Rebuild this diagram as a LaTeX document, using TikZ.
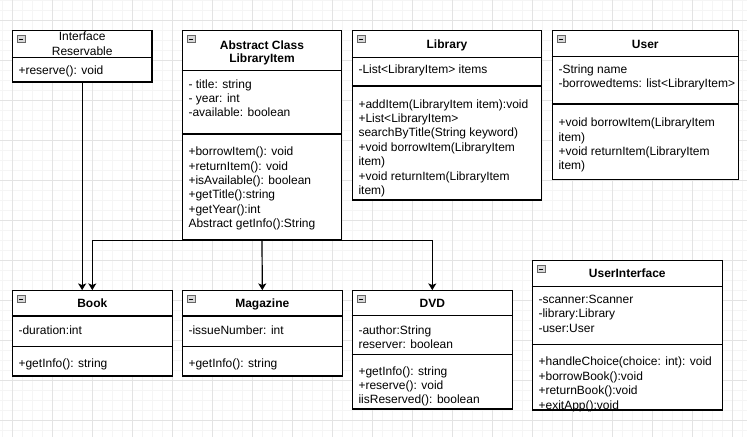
\documentclass[tikz,border=0pt]{standalone}
\usepackage{fontspec}
\setmainfont{Liberation Sans}
\usetikzlibrary{arrows.meta,fit}

\tikzset{
  umlbox/.style={draw=black, fill=white, line width=0.9pt, inner sep=0pt},
  umlline/.style={draw=black, line width=0.9pt},
  classname/.style={font=\fontsize{9}{10.8}\selectfont\bfseries, align=center, inner sep=0pt},
  members/.style={font=\fontsize{9}{10.8}\selectfont, align=left, anchor=base west, inner sep=0pt},
  inherit/.style={line width=0.9pt, -{Stealth[length=5pt,width=6pt,inset=1.2pt]}},
  gridminor/.style={draw=black!4, line width=0.5pt},
  gridmajor/.style={draw=black!11, line width=0.75pt},
  collapse/.pic={
    \filldraw[fill=black!15, draw=black!60, line width=0.5pt] (0,0) rectangle (8,7);
    \draw[line width=0.7pt] (2,3.5) -- (6,3.5);
  }
}

\begin{document}
\begin{tikzpicture}[x=0.75pt, y=-0.75pt]
  \useasboundingbox (0,0) rectangle (747,437);
  \fill[white] (0,0) rectangle (747,437);

  % grid
  \foreach \gx in {2.3,12.3,...,742.3} \draw[gridminor] (\gx,0) -- (\gx,437);
  \foreach \gy in {0.7,10.7,...,430.7} \draw[gridminor] (0,\gy) -- (747,\gy);
  \foreach \gx in {12.3,52.3,...,732.3} \draw[gridmajor] (\gx,0) -- (\gx,437);
  \foreach \gy in {20.7,60.7,...,420.7} \draw[gridmajor] (0,\gy) -- (747,\gy);

  % Interface Reservable
  \node[umlbox, fit={(12.3,30.7) (152,82)}] (reservable) {};
  \draw[umlline] (reservable.west |- 0,57.7) -- (reservable.east |- 0,57.7);
  \pic at (17.3,35.7) {collapse};
  \node[classname, font=\fontsize{9}{11.25}\selectfont] (reservable-name) at (82.2,43.6) {Interface\\Reservable};
  \node[members] (reservable-ops) at (18.3,74) {+reserve(): void};

  % Abstract Class LibraryItem
  \node[umlbox, fit={(182.3,30.7) (341.7,240)}] (libitem) {};
  \draw[umlline] (libitem.west |- 0,70.3) -- (libitem.east |- 0,70.3);
  \draw[umlline] (libitem.west |- 0,134) -- (libitem.east |- 0,134);
  \pic at (187.3,35.7) {collapse};
  \node[classname, font=\fontsize{9}{10.3}\selectfont\bfseries] (libitem-name) at (262,53) {Abstract Class\\LibraryItem};
  \node[members] (libitem-attr) at (188.3,116.8) {- title: string\\- year: int\\-available: boolean};
  \node[members] (libitem-ops) at (188.3,227.7) {+borrowItem(): void\\+returnItem(): void\\+isAvailable(): boolean\\+getTitle():string\\+getYear():int\\Abstract getInfo():String};

  % Library
  \node[umlbox, fit={(352.3,30.7) (541.7,200)}] (library) {};
  \draw[umlline] (library.west |- 0,57.3) -- (library.east |- 0,57.3);
  \draw[umlline] (library.west |- 0,86) -- (library.east |- 0,86);
  \pic at (357.3,35.7) {collapse};
  \node[classname, anchor=base] (library-name) at (447,48.3) {Library};
  \node[members] (library-attr) at (358.3,73.3) {-List<LibraryItem> items};
  \node[members] (library-ops) at (358.3,194.4) {+addItem(LibraryItem item):void\\+List<LibraryItem>\\searchByTitle(String keyword)\\+void borrowItem(LibraryItem\\item)\\+void returnItem(LibraryItem\\item)};

  % User
  \node[umlbox, fit={(552.3,30.7) (738.3,179.3)}] (user) {};
  \draw[umlline] (user.west |- 0,56.7) -- (user.east |- 0,56.7);
  \draw[umlline] (user.west |- 0,104) -- (user.east |- 0,104);
  \pic at (557.3,35.7) {collapse};
  \node[classname, anchor=base] (user-name) at (645.3,48.3) {User};
  \node[members] (user-attr) at (558.3,87.7) {-String name\\-borrowedtems: list<LibraryItem>};
  \node[members] (user-ops) at (558.3,169.9) {+void borrowItem(LibraryItem\\item)\\+void returnItem(LibraryItem\\item)};

  % Book
  \node[umlbox, fit={(12.3,290.7) (172.3,376)}] (book) {};
  \draw[umlline] (book.west |- 0,316) -- (book.east |- 0,316);
  \draw[umlline] (book.west |- 0,346.3) -- (book.east |- 0,346.3);
  \pic at (17.3,295.7) {collapse};
  \node[classname, anchor=base] (book-name) at (92.3,307.6) {Book};
  \node[members] (book-attr) at (18.3,334) {-duration:int};
  \node[members] (book-ops) at (18.3,367.3) {+getInfo(): string};

  % Magazine
  \node[umlbox, fit={(182.3,290.7) (342.3,376)}] (magazine) {};
  \draw[umlline] (magazine.west |- 0,316) -- (magazine.east |- 0,316);
  \draw[umlline] (magazine.west |- 0,346.3) -- (magazine.east |- 0,346.3);
  \pic at (187.3,295.7) {collapse};
  \node[classname, anchor=base] (magazine-name) at (262.3,307.6) {Magazine};
  \node[members] (magazine-attr) at (188.3,334) {-issueNumber: int};
  \node[members] (magazine-ops) at (188.3,367.3) {+getInfo(): string};

  % DVD
  \node[umlbox, fit={(352.3,290.7) (512.3,409)}] (dvd) {};
  \draw[umlline] (dvd.west |- 0,315.7) -- (dvd.east |- 0,315.7);
  \draw[umlline] (dvd.west |- 0,354.7) -- (dvd.east |- 0,354.7);
  \pic at (357.3,295.7) {collapse};
  \node[classname, anchor=base] (dvd-name) at (432.3,307.6) {DVD};
  \node[members] (dvd-attr) at (358.3,348.4) {-author:String\\reserver: boolean};
  \node[members] (dvd-ops) at (358.3,403.8) {+getInfo(): string\\+reserve(): void\\iisReserved(): boolean};

  % UserInterface
  \node[umlbox, fit={(532.3,260.7) (722.3,410)}] (ui) {};
  \draw[umlline] (ui.west |- 0,286.7) -- (ui.east |- 0,286.7);
  \draw[umlline] (ui.west |- 0,344.3) -- (ui.east |- 0,344.3);
  \pic at (537.3,265.7) {collapse};
  \node[classname, anchor=base] (ui-name) at (627.3,277.6) {UserInterface};
  \node[members] (ui-attr) at (538.3,332.1) {-scanner:Scanner\\-library:Library\\-user:User};
  \node[members] (ui-ops) at (538.3,409) {+handleChoice(choice: int): void\\+borrowBook():void\\+returnBook():void\\+exitApp():void};

  % inheritance / realization
  \draw[inherit] (reservable.south) -- (reservable.south |- book.north);
  \draw[inherit] (libitem.south) -| (book.north);
  \draw[inherit] (libitem.south) -- (magazine.north);
  \draw[inherit] (libitem.south) -| (dvd.north);
\end{tikzpicture}
\end{document}
